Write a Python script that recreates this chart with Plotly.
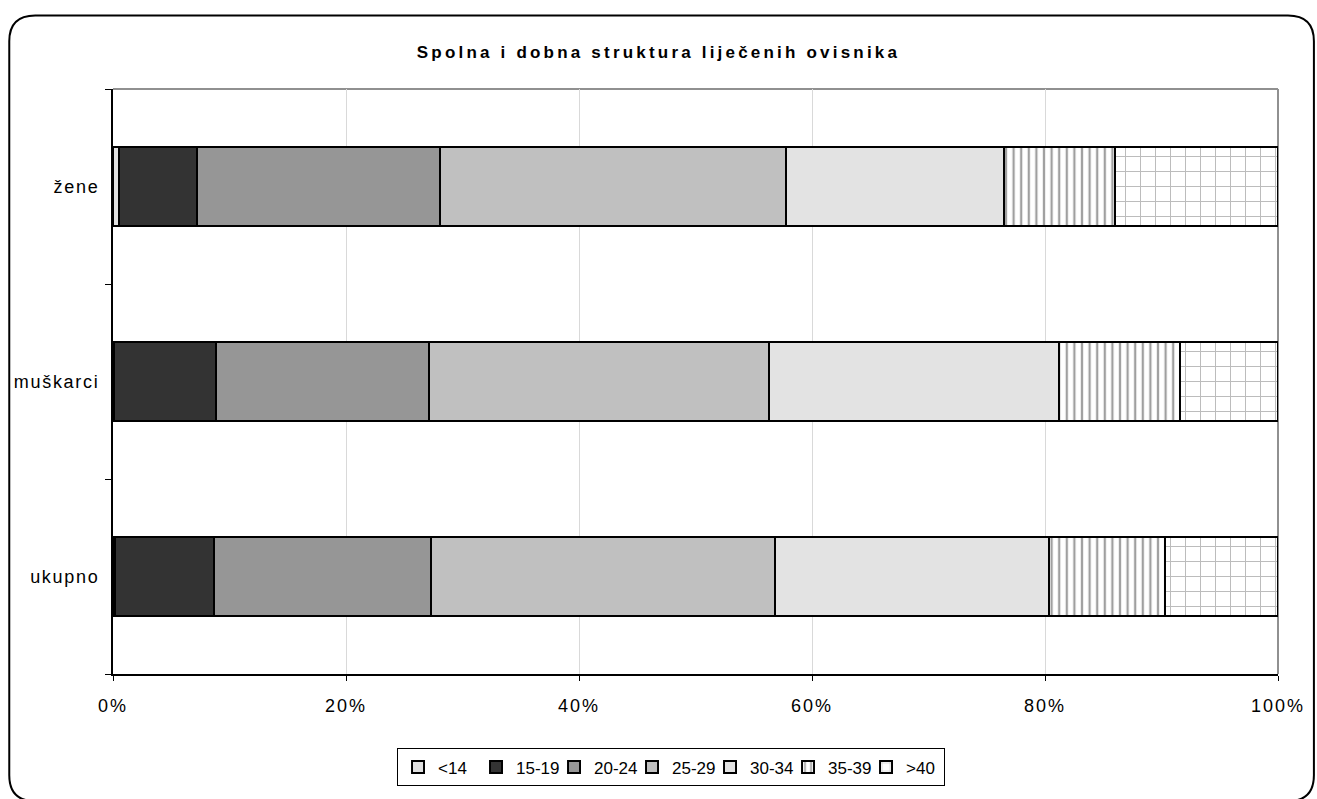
import plotly.graph_objects as go

categories = ["ukupno", "muškarci", "žene"]
age_groups = ["<14", "15-19", "20-24", "25-29", "30-34", "35-39", ">40"]
# percentage share per age group, order matches categories
v_lt14 = [0.2, 0.1, 0.5]
v_15_19 = [8.5, 8.7, 6.7]
v_20_24 = [18.6, 18.3, 20.9]
v_25_29 = [29.5, 29.2, 29.7]
v_30_34 = [23.5, 24.9, 18.7]
v_35_39 = [10.0, 10.4, 9.5]
v_gt40 = [9.7, 8.4, 14.0]
series = [v_lt14, v_15_19, v_20_24, v_25_29, v_30_34, v_35_39, v_gt40]
x_ticks = [0, 20, 40, 60, 80, 100]
title_text = "Spolna i dobna struktura liječenih ovisnika"

styles = [
    dict(color="#e0e0e0"),
    dict(color="#333333"),
    dict(color="#969696"),
    dict(color="#c0c0c0"),
    dict(color="#e3e3e3"),
    dict(color="white", pattern=dict(shape="|", fgcolor="#404040", bgcolor="white", size=7.6, solidity=0.3)),
    dict(color="white", pattern=dict(shape="+", fgcolor="#7a7a7a", bgcolor="white", size=15, solidity=0.13)),
]

FONT = "Liberation Sans, Arial, sans-serif"


def sp(text, ls):
    return f'<span style="letter-spacing:{ls}px">{text}</span>'


fig = go.Figure()
for name, vals, st in zip(age_groups, series, styles):
    fig.add_trace(go.Bar(
        y=categories, x=vals, name=name, orientation="h",
        marker=dict(line=dict(color="black", width=2), **st),
        hovertemplate=name + ": %{x}%<extra>%{y}</extra>",
    ))

W, H = 1317, 799
L, R, T, B = 113, 1281, 89, 678
pw, ph = R - L, B - T


def px(x):
    return (x - L) / pw


def py(y):
    return (B - y) / ph


# rounded outer border
x0, x1, y0, y1, r = 9, 1317, 15, 806, 26
path = (
    f"M {px(x0)},{py(y0 + r)} "
    f"Q {px(x0)},{py(y0)} {px(x0 + r)},{py(y0)} "
    f"L {px(x1 - r)},{py(y0)} "
    f"Q {px(x1)},{py(y0)} {px(x1)},{py(y0 + r)} "
    f"L {px(x1)},{py(y1 - r)} "
    f"Q {px(x1)},{py(y1)} {px(x1 - r)},{py(y1)} "
    f"L {px(x0 + r)},{py(y1)} "
    f"Q {px(x0)},{py(y1)} {px(x0)},{py(y1 - r)} Z"
)

fig.update_layout(
    width=W, height=H,
    margin=dict(l=L, r=W - R, t=T, b=H - B),
    paper_bgcolor="white", plot_bgcolor="white",
    barmode="stack", bargap=0.59,
    font=dict(family=FONT, size=18, color="black"),
    title=dict(text="<b>" + sp(title_text, 3.2) + "</b>",
               x=0.5, xanchor="center", y=1 - 52 / H, yanchor="middle",
               font=dict(size=17, family=FONT)),
    xaxis=dict(range=[0, 100], tickvals=x_ticks,
               ticktext=[sp(f"{v}%", 2) for v in x_ticks],
               showgrid=True, gridcolor="#d9d9d9", gridwidth=1,
               showline=True, linecolor="black", linewidth=2,
               ticks="outside", ticklen=5, tickcolor="black", zeroline=False,
               tickfont=dict(size=18), ticklabelstandoff=9),
    yaxis=dict(type="category", categoryorder="array", categoryarray=categories,
               tickvals=categories, ticktext=[sp(c, 1.7) for c in categories],
               showline=True, linecolor="black", linewidth=2,
               ticks="outside", tickson="boundaries", ticklen=6, tickcolor="black",
               showgrid=False, tickfont=dict(size=18), ticklabelstandoff=8),
    legend=dict(orientation="h", x=0.479, xanchor="center", y=py(753), yanchor="top",
                traceorder="normal", bordercolor="black", borderwidth=1,
                font=dict(size=17), itemwidth=30, tracegroupgap=0,
                entrywidth=33, entrywidthmode="pixels"),
    shapes=[
        dict(type="line", xref="paper", yref="paper", x0=0, x1=1, y0=1, y1=1,
             line=dict(color="#909090", width=2), layer="below"),
        dict(type="line", xref="paper", yref="paper", x0=1, x1=1, y0=0, y1=1,
             line=dict(color="#909090", width=2), layer="below"),
        dict(type="path", xref="paper", yref="paper", path=path,
             line=dict(color="black", width=2), fillcolor="rgba(0,0,0,0)"),
    ],
)

fig.write_html("out.html", config={"displayModeBar": False},
               post_script="document.body.style.margin='0';document.body.style.overflow='hidden';")
